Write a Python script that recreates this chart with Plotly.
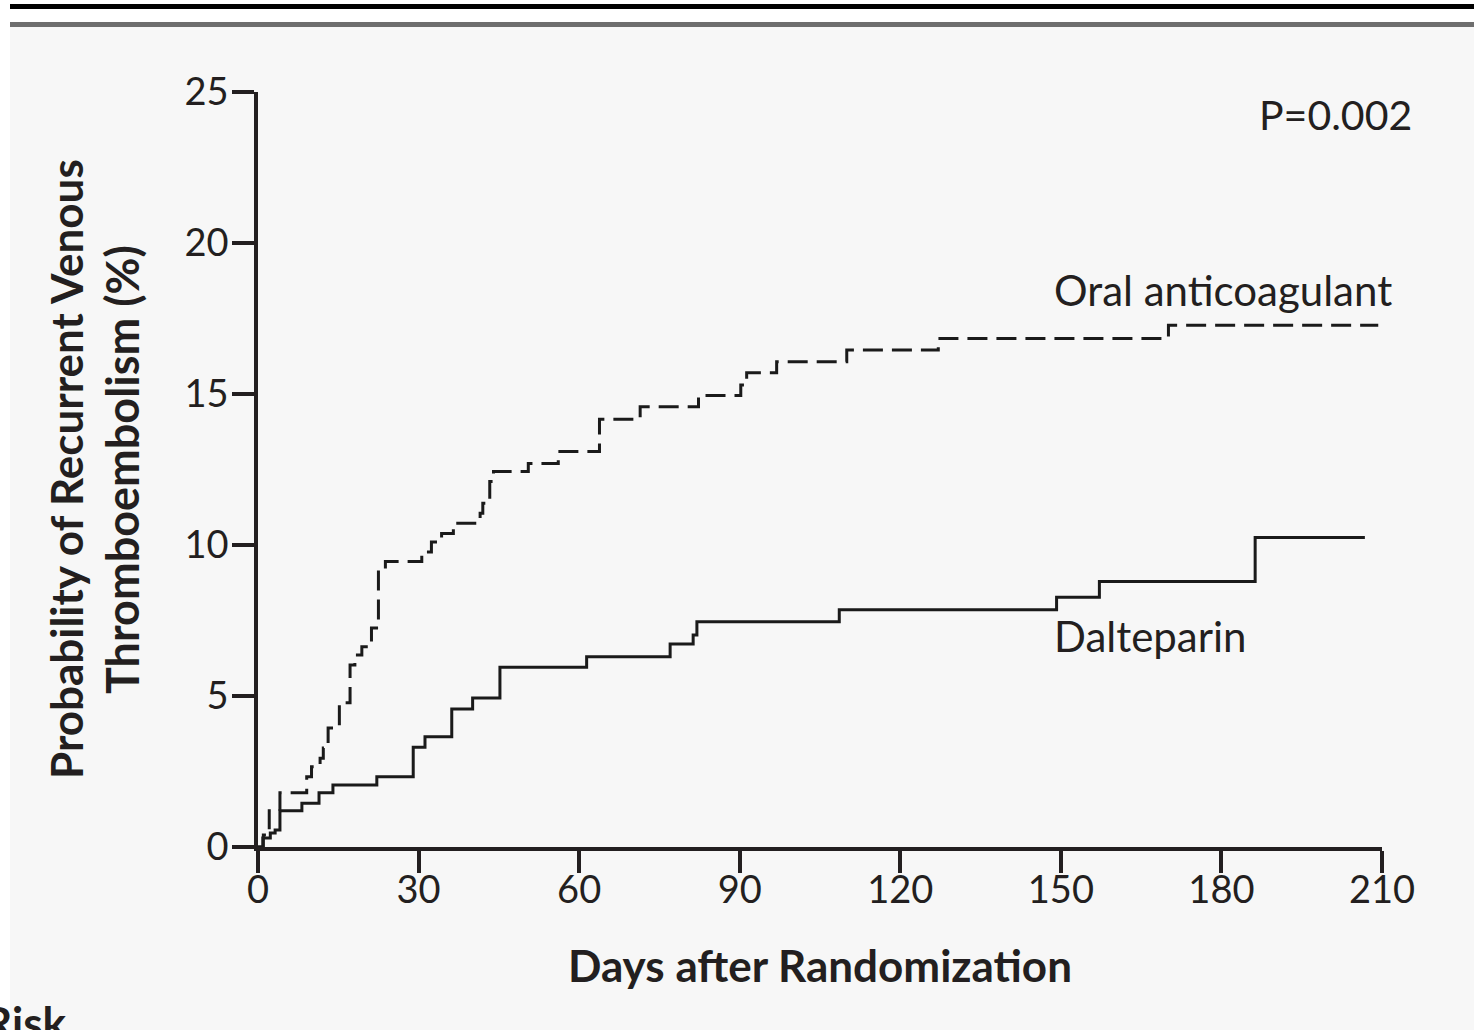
import plotly.graph_objects as go

# Kaplan-Meier style cumulative probability of recurrent VTE (%)
dalteparin_days = [0, 0.9, 2.3, 3.2, 4.1, 8.2, 11.4, 14.0, 22.2, 29.0, 31.2, 36.2,
                   40.1, 45.2, 61.4, 77.0, 81.3, 82.0, 108.6, 149.2, 157.2, 186.3, 206.8]
dalteparin_pct = [0, 0.3, 0.46, 0.56, 1.2, 1.45, 1.8, 2.05, 2.33, 3.3, 3.65, 4.57,
                  4.93, 5.95, 6.3, 6.72, 7.02, 7.46, 7.86, 8.27, 8.79, 10.25, 10.25]

oral_days = [0, 1.0, 2.1, 4.1, 9.1, 10.0, 11.6, 12.2, 13.1, 15.2, 17.2, 18.1, 19.4,
             21.2, 22.5, 23.8, 30.6, 32.4, 34.3, 36.5, 41.5, 42.0, 43.3, 44.0, 50.5,
             56.1, 63.8, 71.4, 82.3, 90.2, 91.3, 96.9, 110.0, 127.1, 170.1, 209.3]
oral_pct = [0, 0.4, 1.2, 1.8, 2.33, 2.66, 2.94, 3.28, 3.94, 4.78, 6.03, 6.36, 6.63,
            7.25, 9.2, 9.45, 9.77, 10.1, 10.38, 10.72, 11.05, 11.38, 12.1, 12.43, 12.7,
            13.1, 14.16, 14.58, 14.95, 15.3, 15.7, 16.07, 16.46, 16.84, 17.28, 17.28]

x_ticks = [0, 30, 60, 90, 120, 150, 180, 210]
y_ticks = [0, 5, 10, 15, 20, 25]

W, H = 1474, 1030
ML, MR, MT, MB = 258, 92, 92, 183
PW, PH = W - ML - MR, H - MT - MB

INK = "#231f20"
FONT = "Lato"


def px(xp):
    return (xp - ML) / PW


def py(yp):
    return (H - MB - yp) / PH


fig = go.Figure()
fig.add_trace(go.Scatter(x=oral_days, y=oral_pct, mode="lines", line_shape="hv",
                         line=dict(color="#1a1a1a", width=3, dash="20px,9px"),
                         showlegend=False, hoverinfo="skip"))
fig.add_trace(go.Scatter(x=dalteparin_days, y=dalteparin_pct, mode="lines", line_shape="hv",
                         line=dict(color="#1a1a1a", width=3),
                         showlegend=False, hoverinfo="skip"))

axis_common = dict(showline=True, linecolor=INK, linewidth=3.5, ticks="outside",
                   ticklen=22, tickwidth=3.5, tickcolor=INK, showgrid=False,
                   zeroline=False, tickfont=dict(family=FONT, size=38, color=INK))
fig.update_xaxes(range=[0, 210], tickvals=x_ticks, ticktext=[str(v) for v in x_ticks],
                 ticklabelstandoff=-15, **axis_common)
fig.update_yaxes(range=[0, 25], tickvals=y_ticks, ticktext=[str(v) for v in y_ticks],
                 ticklabelstandoff=-4, **axis_common)

shapes = [
    dict(type="rect", xref="paper", yref="paper", x0=px(10), x1=px(W), y0=py(H), y1=py(27),
         fillcolor="#f7f7f7", line=dict(width=0), layer="below"),
    dict(type="rect", xref="paper", yref="paper", x0=px(10), x1=px(W), y0=py(9), y1=py(4),
         fillcolor="#000000", line=dict(width=0), layer="below"),
    dict(type="rect", xref="paper", yref="paper", x0=px(10), x1=px(W), y0=py(27), y1=py(22),
         fillcolor="#6e6e6e", line=dict(width=0), layer="below"),
]

annotations = [
    dict(text="P=0.002", x=px(1414), y=py(115), xanchor="right", yanchor="middle",
         font=dict(family=FONT, size=41, color=INK)),
    dict(text="Oral anticoagulant", x=px(1052), y=py(290), xanchor="left", yanchor="middle",
         font=dict(family=FONT, size=42, color=INK)),
    dict(text="Dalteparin", x=px(1052), y=py(636), xanchor="left", yanchor="middle",
         font=dict(family=FONT, size=42, color=INK)),
    dict(text="<b>Days after Randomization</b>", x=px(820), y=py(965), xanchor="center",
         yanchor="middle", font=dict(family=FONT, size=44, color=INK)),
    dict(text="<b>Probability of Recurrent Venous</b>", x=px(66), y=py(469),
         xanchor="center", yanchor="middle", textangle=-90,
         font=dict(family=FONT, size=44, color=INK)),
    dict(text="<b>Thromboembolism (%)</b>", x=px(122), y=py(470),
         xanchor="center", yanchor="middle", textangle=-90,
         font=dict(family=FONT, size=45, color=INK)),
    dict(text="<b>Risk</b>", x=px(-18), y=py(1050), xanchor="left", yanchor="bottom",
         font=dict(family=FONT, size=44, color=INK)),
]
for a in annotations:
    a.update(xref="paper", yref="paper", showarrow=False)

fig.update_layout(width=W, height=H, margin=dict(l=ML, r=MR, t=MT, b=MB),
                  paper_bgcolor="white", plot_bgcolor="rgba(0,0,0,0)",
                  shapes=shapes, annotations=annotations)

fig.write_html("out.html")
